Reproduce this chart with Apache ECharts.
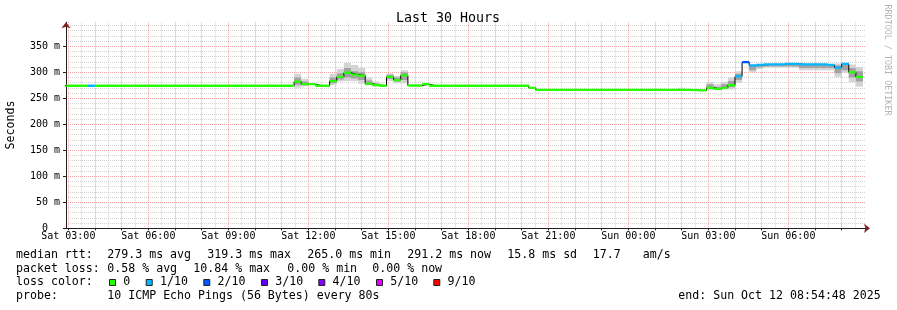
<!DOCTYPE html>
<html><head><meta charset="utf-8">
<script src="https://cdn.jsdelivr.net/npm/echarts@6/dist/echarts.min.js"></script>
<style>html,body{margin:0;padding:0;background:#fff}#c{width:897px;height:310px}</style>
</head><body><div id="c"></div>
<script>
// ---- data (time in minutes since Sat 00:00) ----
const chartTitle = 'Last 30 Hours';
const startMin = 174.8;   // Sat 02:54:48
const endMin = 1974.8;    // Sun 08:54:48
const firstStepStart = 160;
const stepMinutes = 16;
// median RTT per 16-minute step (ms)
const median = [
  274,274,274,274,274,274,274,274,274,274,
  274,274,274,274,274,274,274,274,274,274,
  274,274,274,274,274,274,274,274,274,274,
  274,274,274,282,277,277,274,274,283,291,
  299,295.5,293.6,278,275.5,274,291,285,294,274.5,
  274.5,277,274,274,274,274,274,274,274,274,
  274,274,274,274,274,274,270,266,266,266,
  266,266,266,266,266,266,266,266,266,266,
  266,266,266,266,266,266,266,266,266,265.5,
  265,270,268,270,275,292,319.3,313,314,315,
  315,315,316,316,315,315,315,315,314,309,
  316,300,291.2
];
// steps with packet loss (tenths)
const lossStep   = [4, 95, 96, 97, 98, 99, 100, 101, 102, 103, 104, 105, 106, 107, 108, 109, 110];
const lossTenths = [1, 1,  2,  1,  1,  1,  1,   1,   1,   1,   1,   1,   1,   1,   1,   1,   1];
// smoke (ping spread) per step
const smokeStep  = [33,34,38,39,40,41,42,43,44,46,47,48,87,91,92,93,94,95,97,98,99,100,101,102,103,104,105,106,107,108,109,110,111,112];
const smokeLo    = [270,273,275,282,283,283,278,275,273,283,279,279,265,266,266,267,267,280,300,306,309,309,309,309,309,304,304,304,304,304,291,299,281,272];
const smokeHi    = [297,287,297,306,318,314,308,290,282,298,293,304,270,281,277,281,290,302,314,315,316,316,316,317,317,316,316,316,316,316,317,318,315,310];
const smokeMidLo = [276,275,279,286,290,288,285,276,274,287,282,285,266,268,267,269,271,285,304,309,311,311,311,311,311,308,308,308,308,308,298,304,290,282];
const smokeMidHi = [290,282,290,298,308,302,300,284,278,295,290,300,268,277,272,277,283,297,312,314,315,315,315,316,316,314,314,314,314,314,313,314,308,302];
const lossLevels = [0, 1, 2, 3, 4, 5, 9];
const lossLabels = ['0', '1/10', '2/10', '3/10', '4/10', '5/10', '9/10'];
const lossColors = ['#26ff00', '#00b8ff', '#0059ff', '#5e00ff', '#7e00ff', '#dd00ff', '#ff0000'];
const xLabelValues = [180, 360, 540, 720, 900, 1080, 1260, 1440, 1620, 1800];
const xHourValues = [180,240,300,360,420,480,540,600,660,720,780,840,900,960,1020,1080,1140,1200,1260,1320,1380,1440,1500,1560,1620,1680,1740,1800,1860,1920];
const xHalfHourValues = [210,270,330,390,450,510,570,630,690,750,810,870,930,990,1050,1110,1170,1230,1290,1350,1410,1470,1530,1590,1650,1710,1770,1830,1890,1950];
const yMajorValues = [0, 50, 100, 150, 200, 250, 300, 350];
const yMinorValues = [10,20,30,40,60,70,80,90,110,120,130,140,160,170,180,190,210,220,230,240,260,270,280,290,310,320,330,340,360,370,380,390];
const yMax = 396;
const statsRtt = ['median rtt:', '279.3 ms avg', '319.3 ms max', '265.0 ms min', '291.2 ms now', '15.8 ms sd', '17.7', 'am/s'];
const statsLoss = ['packet loss:', '0.58 % avg', '10.84 % max', '0.00 % min', '0.00 % now'];
const probeText = ['probe:', '10 ICMP Echo Pings (56 Bytes) every 80s'];
const endText = 'end: Sun Oct 12 08:54:48 2025';
const yName = 'Seconds';
const watermark = 'RRDTOOL / TOBI OETIKER';

// ---- build ----
const lossByStep = {};
lossStep.forEach((s, k) => { lossByStep[s] = lossTenths[k]; });
function colorForLoss(l) {
  let idx = 0;
  for (let k = 0; k < lossLevels.length; k++) if (l >= lossLevels[k]) idx = k;
  return lossColors[idx];
}
const medianSegs = median.map((v, i) => [firstStepStart + i * stepMinutes, firstStepStart + (i + 1) * stepMinutes, v, lossByStep[i] || 0]);
const stepLine = median.map((v, i) => [firstStepStart + i * stepMinutes, v]);
stepLine.push([firstStepStart + median.length * stepMinutes, median[median.length - 1]]);
const smokeData = smokeStep.map((s, k) => [firstStepStart + s * stepMinutes, firstStepStart + (s + 1) * stepMinutes, smokeLo[k], smokeHi[k], smokeMidLo[k], smokeMidHi[k]]);

function fmtX(v) {
  const day = v < 1440 ? 'Sat' : 'Sun';
  const m = v % 1440;
  const h = Math.floor(m / 60), mm = Math.round(m % 60);
  return day + ' ' + String(h).padStart(2, '0') + ':' + String(mm).padStart(2, '0');
}
const MONO = '"DejaVu Sans Mono", monospace';
const arrowCol = '#7f1f1f';
const axisCol = '#1f1f1f';
const mgrid = '#f3a0a0';
const grid = '#d2d2d2';

function clipX(a, b, cs) {
  return [Math.max(a, cs.x), Math.min(b, cs.x + cs.width)];
}

const chart = echarts.init(document.getElementById('c'), null, { renderer: 'canvas' });
const graphics = [];
graphics.push({ type: 'text', x: 448, y: 19, style: { text: chartTitle, font: '13.3px ' + MONO, fill: '#000', align: 'center', verticalAlign: 'middle' } });
graphics.push({ type: 'text', x: 11, y: 125, rotation: Math.PI / 2, style: { text: yName, font: '11.6px ' + MONO, fill: '#000', align: 'center', verticalAlign: 'middle' } });
graphics.push({ type: 'text', x: 887, y: 60, rotation: -Math.PI / 2, style: { text: watermark, font: '8.4px ' + MONO, fill: '#b4b4b4', align: 'center', verticalAlign: 'middle' } });
const rttX = [16, 107.3, 207.3, 307.3, 407.3, 507.3, 592.7, 642.7];
statsRtt.forEach((t, k) => graphics.push({ type: 'text', x: rttX[k], y: 254.8, style: { text: t, font: '11.6px ' + MONO, fill: '#000', verticalAlign: 'middle' } }));
const lossX = [16, 107.3, 193.3, 287.3, 372.3];
statsLoss.forEach((t, k) => graphics.push({ type: 'text', x: lossX[k], y: 268.5, style: { text: t, font: '11.6px ' + MONO, fill: '#000', verticalAlign: 'middle' } }));
graphics.push({ type: 'text', x: 16, y: 282.3, style: { text: 'loss color:', font: '11.6px ' + MONO, fill: '#000', verticalAlign: 'middle' } });
const boxX = [109, 145.7, 203.3, 261, 318.3, 376, 433.3];
lossLabels.forEach((t, k) => {
  graphics.push({ type: 'rect', shape: { x: boxX[k] + 0.5, y: 279.5, width: 6, height: 6 }, style: { fill: lossColors[k], stroke: '#222', lineWidth: 1 } });
  graphics.push({ type: 'text', x: boxX[k] + 14.3, y: 282.3, style: { text: t, font: '11.6px ' + MONO, fill: '#000', verticalAlign: 'middle' } });
});
graphics.push({ type: 'text', x: 16, y: 296.2, style: { text: probeText[0], font: '11.6px ' + MONO, fill: '#000', verticalAlign: 'middle' } });
graphics.push({ type: 'text', x: 107.3, y: 296.2, style: { text: probeText[1], font: '11.6px ' + MONO, fill: '#000', verticalAlign: 'middle' } });
graphics.push({ type: 'text', x: 678.3, y: 296.2, style: { text: endText, font: '11.6px ' + MONO, fill: '#000', verticalAlign: 'middle' } });

chart.setOption({
  animation: false,
  backgroundColor: '#fff',
  grid: { left: 66, right: 31, top: 22.3, bottom: 81.7, containLabel: false },
  graphic: graphics,
  xAxis: [
    { type: 'value', position: 'bottom', min: startMin, max: endMin,
      axisLine: { show: true, onZero: false, symbol: ['none', 'arrow'], symbolSize: [7, 6], symbolOffset: [0, 4], lineStyle: { color: arrowCol, width: 1 } },
      axisTick: { show: false, customValues: xHalfHourValues },
      axisLabel: { show: false },
      splitLine: { show: true, lineStyle: { color: grid, type: [1, 1], width: 1 } } },
    { type: 'value', position: 'bottom', min: startMin, max: endMin,
      axisLine: { show: true, onZero: false, lineStyle: { color: axisCol, width: 1 } },
      axisTick: { show: true, length: 2, customValues: xHourValues, lineStyle: { color: axisCol } },
      axisLabel: { show: true, customValues: xLabelValues, formatter: fmtX, margin: 3, color: '#000', fontFamily: MONO, fontSize: 10 },
      splitLine: { show: true, lineStyle: { color: mgrid, type: [1, 1], width: 1 } } }
  ],
  yAxis: [
    { type: 'value', position: 'left', min: 0, max: yMax,
      axisLine: { show: true, onZero: false, symbol: ['none', 'arrow'], symbolSize: [7, 6], lineStyle: { color: arrowCol, width: 1 } },
      axisTick: { show: false, customValues: yMinorValues },
      axisLabel: { show: false },
      splitLine: { show: true, lineStyle: { color: grid, type: [1, 1], width: 1 } } },
    { type: 'value', position: 'left', min: 0, max: yMax,
      axisLine: { show: true, onZero: false, lineStyle: { color: axisCol, width: 1 } },
      axisTick: { show: true, length: 3, customValues: yMajorValues, lineStyle: { color: axisCol } },
      axisLabel: { show: true, customValues: yMajorValues, margin: 6, color: '#000', fontFamily: MONO, fontSize: 10,
        formatter: v => v === 0 ? '0  ' : v + ' m' },
      splitLine: { show: true, showMinLine: false, lineStyle: { color: mgrid, type: [1, 1], width: 1 } } }
  ],
  series: [
    { type: 'custom', name: 'smoke', xAxisIndex: 1, yAxisIndex: 1, clip: true, z: 2,
      encode: { x: [0, 1], y: [2, 3] },
      data: smokeData,
      renderItem(params, api) {
        const cs = params.coordSys;
        const a = api.coord([api.value(0), api.value(2)]);
        const b = api.coord([api.value(1), api.value(3)]);
        const c = api.coord([api.value(0), api.value(4)]);
        const d = api.coord([api.value(0), api.value(5)]);
        const [l, r] = clipX(a[0], b[0], cs);
        if (r <= l) return null;
        return { type: 'group', children: [
          { type: 'rect', shape: { x: l, y: b[1], width: r - l, height: a[1] - b[1] }, style: { fill: '#d4d4d4' } },
          { type: 'rect', shape: { x: l, y: d[1], width: r - l, height: c[1] - d[1] }, style: { fill: '#a2a2a2' } }
        ] };
      } },
    { type: 'line', name: 'median step', xAxisIndex: 1, yAxisIndex: 1, step: 'end', symbol: 'none', clip: true, z: 3,
      lineStyle: { color: '#000', width: 1 }, data: stepLine },
    { type: 'custom', name: 'median', xAxisIndex: 1, yAxisIndex: 1, clip: true, z: 4,
      encode: { x: [0, 1], y: 2 },
      data: medianSegs,
      renderItem(params, api) {
        const cs = params.coordSys;
        const a = api.coord([api.value(0), api.value(2)]);
        const b = api.coord([api.value(1), api.value(2)]);
        const [l, r] = clipX(a[0], b[0], cs);
        if (r <= l) return null;
        return { type: 'rect', shape: { x: l, y: a[1] - 1.15, width: r - l, height: 2.3 }, style: { fill: colorForLoss(api.value(3)) } };
      } }
  ]
});
</script></body></html>
